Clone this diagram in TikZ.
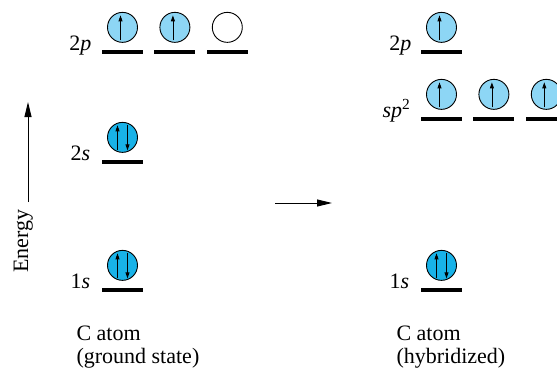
\documentclass[tikz,border=0pt]{standalone}
\usepackage{fontspec}
\setmainfont{Liberation Serif}
\usetikzlibrary{arrows.meta, positioning}
\definecolor{orbblue}{RGB}{141,214,245}
\definecolor{pairblue}{RGB}{24,178,232}

\begin{document}
\begin{tikzpicture}[x=1pt, y=-1pt,
  level/.style={fill=black, inner sep=0pt, minimum width=41pt, minimum height=4pt},
  orb/.style={circle, draw, line width=0.9pt, fill=orbblue, inner sep=0pt, minimum size=30pt},
  pairorb/.style={orb, fill=pairblue},
  emptyorb/.style={orb, fill=white},
  lbl/.style={anchor=base east, font=\fontsize{22}{23}\selectfont},
  atomcap/.style={anchor=base west, align=left, font=\fontsize{22}{23}\selectfont},
  arr/.style={-{Triangle[length=15pt, width=7pt]}, line width=1pt},
  spin/.style={-{Triangle[length=6pt, width=4pt]}, line width=0.8pt}
]
  \useasboundingbox (0,0) rectangle (557,370);
  \clip (0,0) rectangle (557,370);

  % ground state levels
  \node[level] (g2pa) at (122.5,52) {};
  \node[level, right=11pt of g2pa] (g2pb) {};
  \node[level, right=11pt of g2pb] (g2pc) {};
  \node[level] (g2s) at (122.5,162) {};
  \node[level] (g1s) at (122.5,290) {};

  % hybridized levels
  \node[level] (h2p) at (441.5,52) {};
  \node[level] (hspa) at (441.5,119) {};
  \node[level, right=11pt of hspa] (hspb) {};
  \node[level, right=11pt of hspb] (hspc) {};
  \node[level] (h1s) at (441.5,290) {};

  % orbitals
  \node[orb, above=7pt of g2pa] (og2pa) {};
  \node[orb, above=7pt of g2pb] (og2pb) {};
  \node[emptyorb, above=7pt of g2pc] (og2pc) {};
  \node[pairorb, above=7pt of g2s] (og2s) {};
  \node[pairorb, above=7pt of g1s] (og1s) {};
  \node[orb, above=7pt of h2p] (oh2p) {};
  \node[orb, above=7pt of hspa] (ohspa) {};
  \node[orb, above=7pt of hspb] (ohspb) {};
  \node[orb, above=7pt of hspc] (ohspc) {};
  \node[pairorb, above=7pt of h1s] (oh1s) {};

  % electrons
  \foreach \o in {og2pa,og2pb,oh2p,ohspa,ohspb,ohspc}
    \draw[spin] ([shift={(-2,13)}]\o.center) -- ([shift={(-2,-12)}]\o.center);
  \foreach \o in {og2s,og1s,oh1s} {
    \draw[spin] ([shift={(-5,13)}]\o.center) -- ([shift={(-5,-12)}]\o.center);
    \draw[spin] ([shift={(5,-12)}]\o.center) -- ([shift={(5,13)}]\o.center);
  }

  % level labels
  \node[lbl] at ([shift={(-7,-2)}]g2pa.west) {2\textit{p}};
  \node[lbl] at ([shift={(-8,-2)}]g2s.west) {2\textit{s}};
  \node[lbl] at ([shift={(-8,-2)}]g1s.west) {1\textit{s}};
  \node[lbl] at ([shift={(-6,-2)}]h2p.west) {2\textit{p}};
  \node[lbl] at ([shift={(-7,-2)}]hspa.west) {\textit{sp}\textsuperscript{2}};
  \node[lbl] at ([shift={(-8,-2)}]h1s.west) {1\textit{s}};

  % energy axis and transition arrow
  \coordinate (ebot) at (28,202);
  \coordinate (etop) at (28,102);
  \draw[arr] (ebot) -- (etop);
  \node[rotate=90, anchor=base, font=\fontsize{22}{23}\selectfont] (energy) at (28,241) {Energy};
  \coordinate (tfrom) at (275,203);
  \coordinate (tto) at (332,203);
  \draw[arr] (tfrom) -- (tto);

  % captions
  \node[atomcap] (gcap) at (73,363) {C atom\\(ground state)};
  \node[atomcap] (hcap) at (393,363) {C atom\\(hybridized)};
\end{tikzpicture}
\end{document}
